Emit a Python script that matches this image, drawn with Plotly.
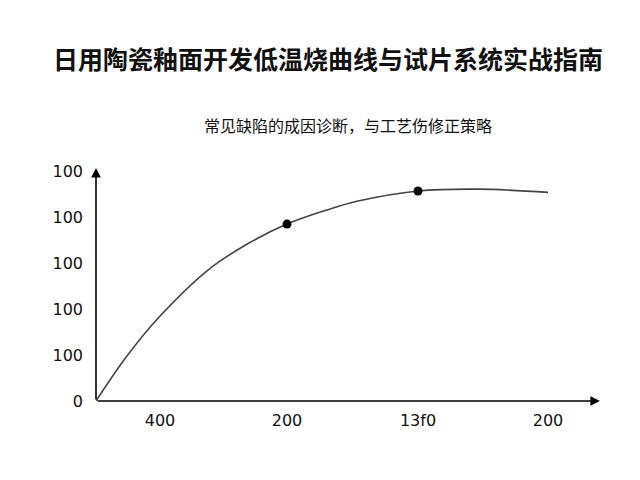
import plotly.graph_objects as go

# curve samples (x in axis units, y in axis units)
curve_x = [0, 30, 62, 112, 150, 191, 230, 262, 322, 382, 452]
curve_y = [0, 0.95, 1.8, 2.85, 3.4, 3.85, 4.15, 4.35, 4.57, 4.61, 4.54]
dot_x = [191, 322]
dot_y = [3.85, 4.57]
xtick_vals = [64, 191, 322, 452]
xtick_text = ["400", "200", "13f0", "200"]
ytick_vals = [0, 1, 2, 3, 4, 5]
ytick_text = ["0", "100", "100", "100", "100", "100"]

font = "Noto Sans CJK SC, Noto Sans, sans-serif"

fig = go.Figure()
fig.add_trace(go.Scatter(x=curve_x, y=curve_y, mode="lines",
                         line=dict(color="#444444", width=1.6, shape="spline")))
fig.add_trace(go.Scatter(x=dot_x, y=dot_y, mode="markers",
                         marker=dict(color="black", size=9)))

fig.update_layout(
    width=640, height=480, showlegend=False,
    paper_bgcolor="white", plot_bgcolor="white",
    margin=dict(l=88, r=48, t=160, b=87, autoexpand=False),
    font=dict(family=font, color="#111111"),
    title=dict(text="<b>日用陶瓷釉面开发低温烧曲线与试片系统实战指南</b>",
               x=0.5, xanchor="center", y=1 - 52 / 480, yanchor="middle",
               font=dict(size=25, color="#111111")),
    xaxis=dict(range=[0, 504], tickvals=xtick_vals, ticktext=xtick_text,
               showgrid=False, zeroline=False, showline=False, ticks="",
               automargin=False, ticklabelstandoff=8,
               tickfont=dict(size=16, family="DejaVu Sans, sans-serif")),
    yaxis=dict(range=[0, 5.07], tickvals=ytick_vals, ticktext=ytick_text,
               showgrid=False, zeroline=False, showline=False, ticks="",
               automargin=False, ticklabelstandoff=12,
               tickfont=dict(size=16, family="DejaVu Sans, sans-serif")),
)

fig.add_annotation(text="常见缺陷的成因诊断，与工艺伤修正策略", xref="paper", yref="paper",
                   x=0.5, y=1 + (160 - 117) / 233, yanchor="middle", showarrow=False,
                   font=dict(size=16, color="#111111"))

# axis arrows
fig.add_annotation(x=0, y=5.07, ax=0, ay=0, xref="x", yref="y", axref="x", ayref="y",
                   showarrow=True, arrowhead=2, arrowsize=1.2, arrowwidth=1.6,
                   arrowcolor="black", text="")
fig.add_annotation(x=504, y=0, ax=0, ay=0, xref="x", yref="y", axref="x", ayref="y",
                   showarrow=True, arrowhead=2, arrowsize=1.2, arrowwidth=1.6,
                   arrowcolor="black", text="")

fig.write_html("out.html")
